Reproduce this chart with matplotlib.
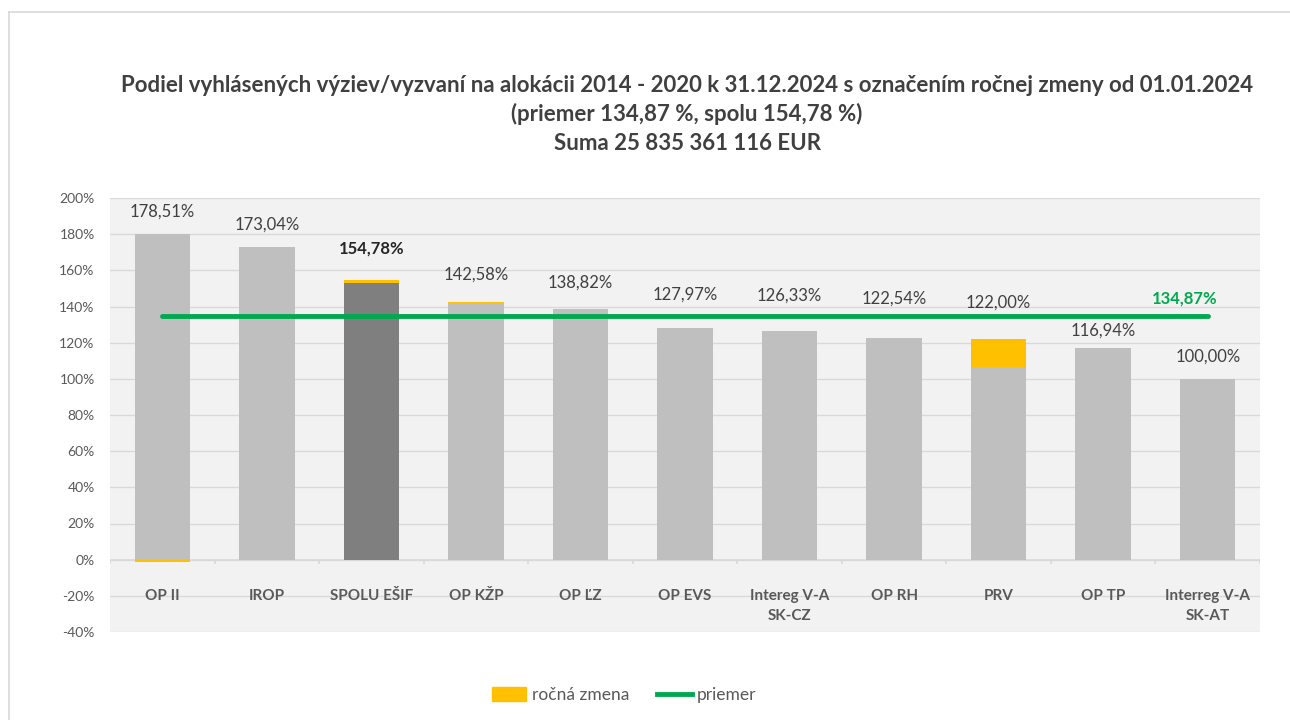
import numpy as np
import matplotlib
matplotlib.use('Agg')
import matplotlib.pyplot as plt
from matplotlib.patches import Patch
from matplotlib.lines import Line2D

plt.rcParams['font.family'] = ['Lato', 'DejaVu Sans']

# data
categories = ['OP II', 'IROP', 'SPOLU EŠIF', 'OP KŽP', 'OP ĽZ', 'OP EVS',
              'Intereg V-A\nSK-CZ', 'OP RH', 'PRV', 'OP TP', 'Interreg V-A\nSK-AT']
base = np.array([180.00, 173.04, 153.00, 142.10, 138.82, 127.97, 126.33, 122.54, 106.30, 116.94, 100.00])
change = np.array([-1.49, 0, 1.78, 0.48, 0, 0, 0, 0, 15.70, 0, 0])
average = 134.87
y_ticks = list(range(-40, 201, 20))

# label distance above the bar top (px), as placed in the source chart
label_gap = [23, 22, 31, 27, 26, 34, 36, 39, 36, 18, 22]

total = base + change
x = np.arange(len(categories))

GRAY = '#bfbfbf'
DARK = '#7f7f7f'
YELLOW = '#ffc000'
GREEN = '#00a94f'
TXT = '#404040'
GRID = '#d9d9d9'
PX = 72 / 100  # pixels -> points

fig = plt.figure(figsize=(12.9, 7.2), dpi=100)
ax = fig.add_axes([110/1290, 1 - 632/720, 1150/1290, 434/720])
ax.set_facecolor('#f2f2f2')

colors = [DARK if c == 'SPOLU EŠIF' else GRAY for c in categories]
ax.bar(x, base, width=0.53, color=colors, zorder=2)
bottoms = np.where(change < 0, 0, base)
ax.bar(x, change, bottom=bottoms, width=0.53, color=YELLOW, zorder=2)

# average line
ax.plot([x[0], x[-1]], [average, average], color=GREEN, lw=3.5, solid_capstyle='round', zorder=3)
ax.annotate(f'{average:.2f}%'.replace('.', ','), (x[-1], average), xytext=(-23 * PX, 17 * PX),
            textcoords='offset points', ha='center', va='center',
            color=GREEN, fontsize=12, fontweight='bold', zorder=4)

# value labels
tops = np.maximum(base, total)
for i, (t, v) in enumerate(zip(tops, total)):
    bold = categories[i] == 'SPOLU EŠIF'
    ax.annotate(f'{v:.2f}%'.replace('.', ','), (x[i], t), xytext=(0, label_gap[i] * PX),
                textcoords='offset points', ha='center', va='center',
                fontsize=12, color='#262626' if bold else TXT,
                fontweight='bold' if bold else 'normal', zorder=4)

# category labels inside plot area
for i, c in enumerate(categories):
    ax.text(x[i], -16, c, ha='center', va='top', fontsize=11,
            fontweight='bold', color='#595959', linespacing=1.55)

# zero axis with tick marks between categories
ax.axhline(0, color=GRID, lw=1.2, zorder=1)
ax.vlines(np.arange(len(categories) + 1) - 0.5, -2.5, 0, color=GRID, lw=1.2, zorder=1)

ax.set_xlim(-0.5, len(categories) - 0.5)
ax.set_ylim(-40, 200)
ax.set_yticks(y_ticks)
ax.set_yticklabels([f'{t}%' for t in y_ticks], color='#595959', fontsize=10)
ax.set_xticks([])
ax.tick_params(axis='y', length=0, pad=11)
ax.grid(axis='y', color=GRID, lw=1, zorder=0)
for s in ax.spines.values():
    s.set_visible(False)

title_x = 687 / 1290
fig.text(title_x, 1 - 85/720, 'Podiel vyhlásených výziev/vyzvaní na alokácii 2014 - 2020 k 31.12.2024 s označením ročnej zmeny od 01.01.2024',
         ha='center', va='center', fontsize=16, fontweight='bold', color=TXT)
fig.text(title_x, 1 - 114/720, '(priemer 134,87 %, spolu 154,78 %)',
         ha='center', va='center', fontsize=16, fontweight='bold', color=TXT)
fig.text(title_x, 1 - 143/720, 'Suma 25 835 361 116 EUR',
         ha='center', va='center', fontsize=16, fontweight='bold', color=TXT)

# chart border (left and top)
fig.add_artist(Line2D([9/1290, 9/1290], [0, 1 - 12/720], color=GRID, lw=1.2))
fig.add_artist(Line2D([9/1290, 1], [1 - 12/720, 1 - 12/720], color=GRID, lw=1.2))

handles = [Patch(color=YELLOW, label='ročná zmena'),
           Line2D([0], [0], color=GREEN, lw=3.5, label='priemer')]
fig.legend(handles=handles, loc='center', bbox_to_anchor=(624/1290, 1 - 695/720), ncol=2,
           frameon=False, fontsize=12.5, labelcolor='#595959', handlelength=2.0,
           handleheight=0.9, handletextpad=0.3, columnspacing=1.6)

fig.savefig('out.png', dpi=100, facecolor='white')
